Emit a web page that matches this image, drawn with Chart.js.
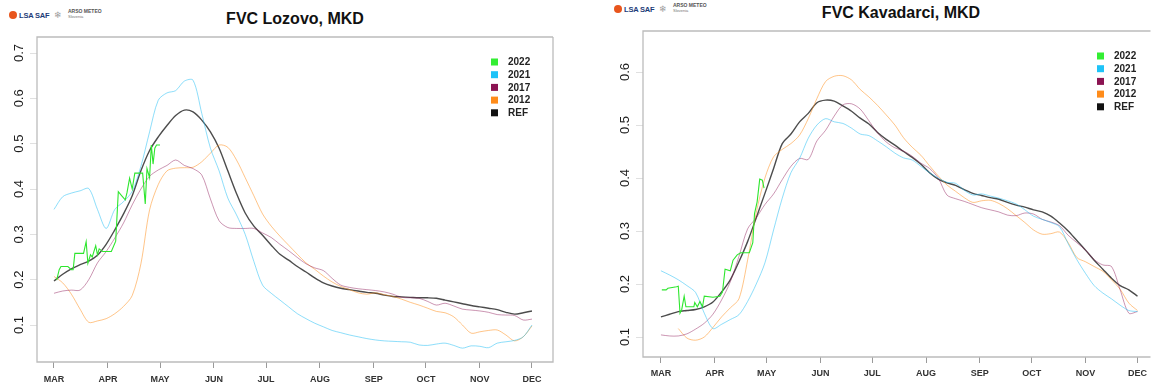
<!DOCTYPE html>
<html>
<head>
<meta charset="utf-8">
<title>FVC Lozovo / Kavadarci</title>
<script src="https://cdn.jsdelivr.net/npm/chart.js@4.4.0/dist/chart.umd.min.js"></script>
<style>
  html, body { margin: 0; padding: 0; background: #fff; overflow: hidden; }
  body { width: 1152px; height: 385px; position: relative; font-family: "Liberation Sans", Arial, sans-serif; }
  canvas { position: absolute; top: 0; }
  .title { position: absolute; font-weight: bold; font-size: 16px; color: #111; white-space: nowrap; transform: translate(-50%, -50%); }
  .logo { position: absolute; width: 100px; height: 20px; }
  .logo .dot { position: absolute; left: 0; top: 1px; width: 8px; height: 8px; border-radius: 50%; background: #e8551c; }
  .logo .lsa { position: absolute; left: 10px; top: 1px; font: bold 7.5px "Liberation Sans", Arial, sans-serif; color: #1d3c78; letter-spacing: -0.2px; white-space: nowrap; }
  .logo .gear { position: absolute; left: 45px; top: 0px; font-size: 9px; color: #999; }
  .logo .arso { position: absolute; left: 59px; top: -2px; font: bold 5px "Liberation Sans", Arial, sans-serif; color: #555; white-space: nowrap; }
  .logo .slo { position: absolute; left: 59px; top: 4px; font: 4px "Liberation Sans", Arial, sans-serif; color: #777; }
</style>
</head>
<body>
<div class="logo" style="left:9px; top:10px"><div class="dot"></div><div class="lsa">LSA SAF</div><div class="gear">&#10052;</div><div class="arso">ARSO METEO</div><div class="slo">Slovenia</div></div>
<div class="logo" style="left:614px; top:4px"><div class="dot"></div><div class="lsa">LSA SAF</div><div class="gear">&#10052;</div><div class="arso">ARSO METEO</div><div class="slo">Slovenia</div></div>
<div class="title" style="left:295px; top:19px">FVC Lozovo, MKD</div>
<div class="title" style="left:901px; top:13px">FVC Kavadarci, MKD</div>
<canvas id="lozovo" width="576" height="385" style="left:0"></canvas>
<canvas id="kavadarci" width="572" height="385" style="left:580px"></canvas>
<script>
// days counted from 1 March
const monthLabels = ['MAR', 'APR', 'MAY', 'JUN', 'JUL', 'AUG', 'SEP', 'OCT', 'NOV', 'DEC'];
const monthDays = [0, 31, 61, 92, 122, 153, 184, 214, 245, 275];
const seriesLabels = ['2022', '2021', '2017', '2012', 'REF'];
const legendColors = ['#33ee33', '#1ec3f8', '#8b1352', '#ff8c1a', '#111111'];

const days = [0, 5, 10, 15, 20, 25, 30, 35, 40, 45, 50, 55, 60, 65, 70, 75, 80, 85, 90, 95,
  100, 105, 110, 115, 120, 125, 130, 135, 140, 145, 150, 155, 160, 165, 170, 175, 180, 185, 190, 195,
  200, 205, 210, 215, 220, 225, 230, 235, 240, 245, 250, 255, 260, 265, 270, 275];

// Lozovo
const lozTicks = [0.1, 0.2, 0.3, 0.4, 0.5, 0.6, 0.7];
const lozRef = [0.197, 0.212, 0.224, 0.233, 0.241, 0.254, 0.278, 0.310, 0.345, 0.385,
  0.440, 0.485, 0.515, 0.540, 0.562, 0.574, 0.570, 0.552, 0.526, 0.490,
  0.440, 0.390, 0.347, 0.318, 0.298, 0.276, 0.256, 0.243, 0.229, 0.217,
  0.204, 0.193, 0.186, 0.181, 0.178, 0.175, 0.172, 0.170, 0.166, 0.163,
  0.162, 0.161, 0.160, 0.160, 0.159, 0.155, 0.151, 0.147, 0.143, 0.140,
  0.137, 0.134, 0.128, 0.124, 0.127, 0.131];
const loz2021 = [0.355, 0.383, 0.391, 0.396, 0.401, 0.355, 0.313, 0.355, 0.372, 0.395,
  0.450, 0.526, 0.596, 0.612, 0.617, 0.638, 0.640, 0.567, 0.490, 0.440,
  0.380, 0.343, 0.300, 0.240, 0.188, 0.170, 0.155, 0.140, 0.125, 0.114,
  0.104, 0.096, 0.088, 0.083, 0.078, 0.074, 0.070, 0.067, 0.065, 0.064,
  0.063, 0.062, 0.056, 0.055, 0.058, 0.060, 0.055, 0.049, 0.054, 0.053,
  0.050, 0.060, 0.063, 0.066, 0.074, 0.100];
const loz2017 = [0.170, 0.175, 0.177, 0.177, 0.200, 0.237, 0.262, 0.292, 0.325, 0.365,
  0.400, 0.428, 0.442, 0.452, 0.464, 0.452, 0.445, 0.431, 0.378, 0.330,
  0.315, 0.313, 0.313, 0.313, 0.303, 0.293, 0.278, 0.264, 0.249, 0.235,
  0.226, 0.220, 0.203, 0.188, 0.183, 0.180, 0.178, 0.176, 0.173, 0.168,
  0.161, 0.160, 0.159, 0.152, 0.144, 0.148, 0.142, 0.135, 0.133, 0.131,
  0.128, 0.123, 0.122, 0.121, 0.111, 0.113];
const loz2012 = [0.207, 0.193, 0.168, 0.135, 0.106, 0.109, 0.114, 0.125, 0.141, 0.165,
  0.235, 0.354, 0.410, 0.440, 0.446, 0.447, 0.448, 0.460, 0.479, 0.497,
  0.492, 0.464, 0.425, 0.385, 0.345, 0.318, 0.296, 0.276, 0.256, 0.237,
  0.223, 0.208, 0.195, 0.185, 0.178, 0.171, 0.168, 0.171, 0.167, 0.163,
  0.157, 0.150, 0.144, 0.137, 0.130, 0.127, 0.118, 0.100, 0.082, 0.085,
  0.088, 0.089, 0.078, 0.065, 0.074, 0.098];
const loz2022Days = [1.5, 3, 4, 8, 10, 11, 12, 17, 18.5, 19.5, 21, 22, 24, 25, 26, 28, 33, 35.5, 37, 39,
  41, 42, 43.5, 45, 46.5, 51, 52.5, 53.5, 55, 56, 57, 58, 59, 61];
const loz2022 = [0.199, 0.222, 0.229, 0.229, 0.222, 0.222, 0.258, 0.258, 0.284, 0.236,
  0.255, 0.250, 0.275, 0.255, 0.268, 0.262, 0.262, 0.285, 0.394, 0.385,
  0.376, 0.392, 0.424, 0.400, 0.435, 0.435, 0.367, 0.445, 0.425, 0.497,
  0.455, 0.490, 0.497, 0.497];

// Kavadarci
const kavTicks = [0.1, 0.2, 0.3, 0.4, 0.5, 0.6];
const kavRef = [0.138, 0.143, 0.148, 0.150, 0.152, 0.157, 0.166, 0.185, 0.208, 0.242,
  0.280, 0.325, 0.371, 0.418, 0.465, 0.483, 0.506, 0.522, 0.542, 0.547,
  0.545, 0.536, 0.526, 0.513, 0.502, 0.486, 0.473, 0.462, 0.450, 0.439,
  0.426, 0.410, 0.398, 0.391, 0.386, 0.378, 0.371, 0.367, 0.363, 0.360,
  0.354, 0.349, 0.345, 0.340, 0.336, 0.328, 0.315, 0.300, 0.282, 0.264,
  0.245, 0.228, 0.211, 0.197, 0.189, 0.177];
const kav2021 = [0.225, 0.217, 0.208, 0.197, 0.184, 0.145, 0.116, 0.124, 0.133, 0.142,
  0.167, 0.200, 0.240, 0.302, 0.362, 0.410, 0.437, 0.475, 0.500, 0.512,
  0.506, 0.503, 0.494, 0.483, 0.480, 0.470, 0.459, 0.447, 0.438, 0.434,
  0.422, 0.410, 0.400, 0.392, 0.390, 0.377, 0.368, 0.370, 0.366, 0.362,
  0.357, 0.351, 0.340, 0.328, 0.322, 0.316, 0.308, 0.276, 0.246, 0.220,
  0.197, 0.183, 0.172, 0.160, 0.150, 0.148];
const kav2017 = [0.104, 0.102, 0.102, 0.106, 0.115, 0.126, 0.143, 0.170, 0.204, 0.252,
  0.304, 0.325, 0.350, 0.370, 0.397, 0.422, 0.437, 0.435, 0.470, 0.490,
  0.517, 0.538, 0.540, 0.530, 0.508, 0.485, 0.468, 0.457, 0.451, 0.441,
  0.428, 0.418, 0.400, 0.368, 0.361, 0.356, 0.350, 0.344, 0.340, 0.336,
  0.330, 0.329, 0.334, 0.332, 0.322, 0.317, 0.310, 0.292, 0.278, 0.264,
  0.246, 0.236, 0.233, 0.189, 0.145, 0.148];
const kav2012 = [null, null, 0.116, 0.098, 0.094, 0.100, 0.118, 0.138, 0.155, 0.172,
  0.245, 0.335, 0.400, 0.440, 0.454, 0.465, 0.481, 0.512, 0.550, 0.582,
  0.592, 0.593, 0.585, 0.567, 0.553, 0.537, 0.519, 0.500, 0.476, 0.458,
  0.443, 0.423, 0.404, 0.387, 0.375, 0.363, 0.354, 0.357, 0.358, 0.352,
  0.342, 0.329, 0.316, 0.302, 0.294, 0.295, 0.298, 0.278, 0.250, 0.242,
  0.233, 0.224, 0.208, 0.190, 0.164, 0.150];
const kav2022Days = [0.5, 3, 4, 9, 10, 11, 12, 13.4, 14.4, 19, 19.5, 21, 22.5, 24, 25, 30, 34, 35.5, 37, 40,
  41.6, 44, 46, 51, 53, 54, 55.5, 57, 58.5, 59.5];
const kav2022 = [0.189, 0.189, 0.192, 0.195, 0.196, 0.145, 0.152, 0.177, 0.157, 0.157,
  0.165, 0.157, 0.167, 0.157, 0.177, 0.175, 0.177, 0.185, 0.228, 0.225,
  0.245, 0.255, 0.259, 0.259, 0.278, 0.333, 0.355, 0.398, 0.396, 0.381];

function pairs(xs, ys) {
  return xs.map((x, i) => ({ x: x, y: ys[i] }));
}

// box, rotated y labels and legend, drawn R style
const framePlugin = {
  id: 'frame',
  afterDraw(chart, args, opts) {
    const ctx = chart.ctx;
    const a = chart.chartArea;
    ctx.save();
    ctx.strokeStyle = '#bcbcbc';
    ctx.lineWidth = 1.3;
    ctx.beginPath();
    ctx.moveTo(a.right, a.top);
    ctx.lineTo(a.left, a.top);
    ctx.lineTo(a.left, a.bottom);
    ctx.lineTo(a.right, a.bottom);
    if (opts.closed) ctx.lineTo(a.right, a.top);
    ctx.stroke();

    const ys = chart.scales.y;
    ctx.fillStyle = '#1a1a1a';
    ctx.font = '13px "Liberation Sans", Arial, sans-serif';
    ctx.textAlign = 'center';
    ctx.textBaseline = 'middle';
    ys.ticks.forEach(t => {
      ctx.save();
      ctx.translate(a.left - 18, ys.getPixelForValue(t.value));
      ctx.rotate(-Math.PI / 2);
      ctx.fillText(t.value.toFixed(1), 0, 0);
      ctx.restore();
    });

    ctx.font = 'bold 10px "Liberation Sans", Arial, sans-serif';
    ctx.textAlign = 'left';
    chart.data.datasets.forEach((ds, i) => {
      const cy = a.top + 25 + i * 12.7;
      const cx = a.left + 457.5;
      ctx.fillStyle = legendColors[i];
      ctx.fillRect(cx - 3.5, cy - 3.5, 7, 7);
      ctx.fillStyle = '#222';
      ctx.fillText(ds.label, cx + 13.5, cy + 0.5);
    });
    ctx.restore();
  }
};

function makeChart(id, set, p) {
  const lines = [
    { data: pairs(set.greenDays, set.green), borderColor: '#2ee62e', borderWidth: 1.1, tension: 0 },
    { data: pairs(days, set.y2021), borderColor: 'rgba(30,190,245,0.5)', borderWidth: 1, tension: 0.3 },
    { data: pairs(days, set.y2017), borderColor: 'rgba(140,20,85,0.45)', borderWidth: 1, tension: 0.3 },
    { data: pairs(days, set.y2012), borderColor: 'rgba(255,140,20,0.5)', borderWidth: 1, tension: 0.3 },
    { data: pairs(days, set.ref), borderColor: 'rgba(0,0,0,0.7)', borderWidth: 1.4, tension: 0.3 }
  ];
  lines.forEach((l, i) => { l.label = seriesLabels[i]; l.pointRadius = 0; l.fill = false; l.spanGaps = false; });

  return new Chart(document.getElementById(id), {
    type: 'line',
    data: { datasets: lines },
    options: {
      responsive: false,
      animation: false,
      layout: { padding: { top: p.top, right: p.right, left: 0, bottom: 0 } },
      plugins: {
        legend: { display: false },
        title: { display: false },
        tooltip: { enabled: false },
        frame: { closed: p.closed }
      },
      scales: {
        x: {
          type: 'linear',
          min: p.xMin,
          max: p.xMax,
          afterBuildTicks: s => { s.ticks = monthDays.map(v => ({ value: v })); },
          afterFit: s => { s.height = p.xHeight; },
          ticks: {
            autoSkip: false,
            maxRotation: 0,
            padding: p.xPad,
            color: '#333',
            font: { family: '"Liberation Sans", Arial, sans-serif', size: 9, weight: 'bold' },
            callback: (v, i) => monthLabels[i]
          },
          grid: { drawOnChartArea: false, tickLength: 6, color: '#9a9a9a', lineWidth: 1 },
          border: { display: false }
        },
        y: {
          min: p.yMin,
          max: p.yMax,
          afterBuildTicks: s => { s.ticks = set.ticks.map(v => ({ value: v })); },
          afterFit: s => { s.width = p.yWidth; },
          ticks: { display: false },
          grid: { drawOnChartArea: false, tickLength: 7, color: '#e0e0e0', lineWidth: 1 },
          border: { display: false }
        }
      }
    },
    plugins: [framePlugin]
  });
}

makeChart('lozovo',
  { ticks: lozTicks, ref: lozRef, y2021: loz2021, y2017: loz2017, y2012: loz2012, greenDays: loz2022Days, green: loz2022 },
  { top: 37, right: 23, yWidth: 37, xHeight: 23, xPad: 6, xMin: -9.78, xMax: 287.1, yMin: 0.0184, yMax: 0.7353, closed: true });

makeChart('kavadarci',
  { ticks: kavTicks, ref: kavRef, y2021: kav2021, y2017: kav2017, y2012: kav2012, greenDays: kav2022Days, green: kav2022 },
  { top: 31, right: 0, yWidth: 63, xHeight: 28, xPad: 5, xMin: -10.36, xMax: 282.5, yMin: 0.0623, yMax: 0.6774, closed: false });
</script>
</body>
</html>
